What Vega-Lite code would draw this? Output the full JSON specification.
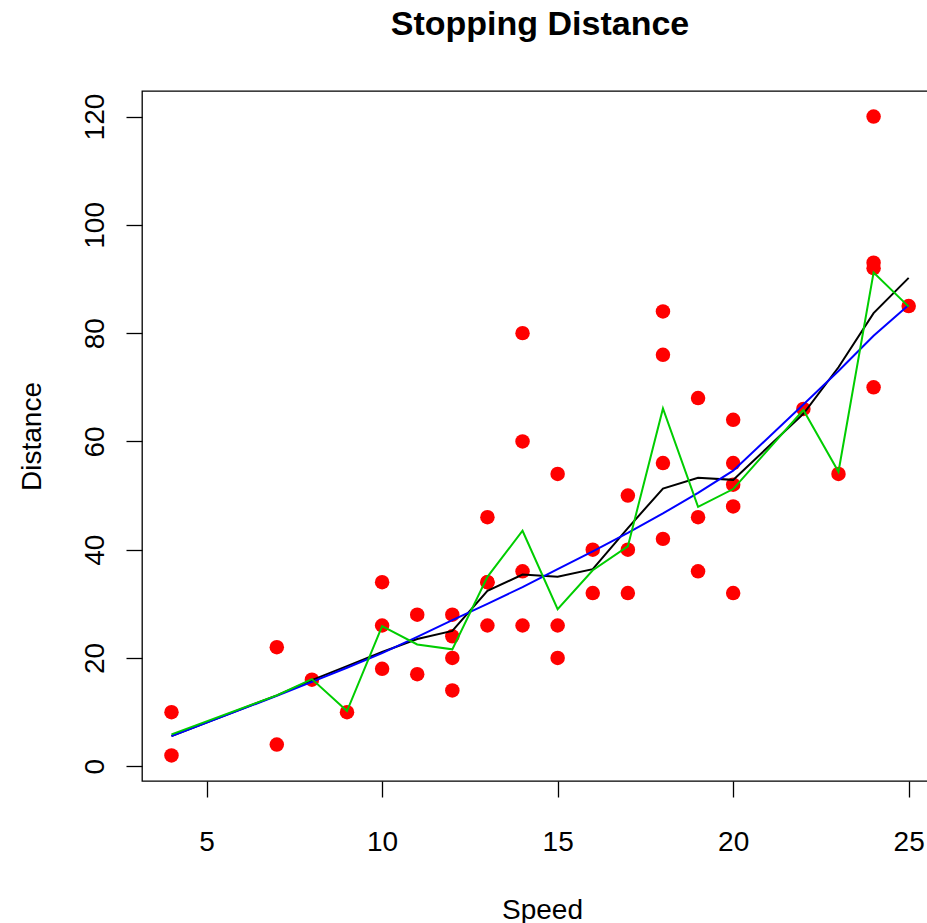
{
  "$schema": "https://vega.github.io/schema/vega-lite/v6.json",
  "width": 786,
  "height": 690,
  "autosize": {"type": "none"},
  "padding": {"left": 142, "top": 91, "right": 0, "bottom": 142},
  "background": "white",
  "config": {
    "view": {"stroke": "black", "strokeWidth": 1.3},
    "font": "Liberation Sans"
  },
  "title": {
    "text": "Stopping Distance",
    "font": "Liberation Sans",
    "fontSize": 34,
    "fontWeight": "bold",
    "color": "black",
    "anchor": "middle",
    "frame": "group",
    "baseline": "alphabetic",
    "offset": 22,
    "dx": 5
  },
  "datasets": {
    "cars": [
      {"speed": 4, "dist": 2}, {"speed": 4, "dist": 10}, {"speed": 7, "dist": 4}, {"speed": 7, "dist": 22},
      {"speed": 8, "dist": 16}, {"speed": 9, "dist": 10}, {"speed": 10, "dist": 18}, {"speed": 10, "dist": 26},
      {"speed": 10, "dist": 34}, {"speed": 11, "dist": 17}, {"speed": 11, "dist": 28}, {"speed": 12, "dist": 14},
      {"speed": 12, "dist": 20}, {"speed": 12, "dist": 24}, {"speed": 12, "dist": 28}, {"speed": 13, "dist": 26},
      {"speed": 13, "dist": 34}, {"speed": 13, "dist": 34}, {"speed": 13, "dist": 46}, {"speed": 14, "dist": 26},
      {"speed": 14, "dist": 36}, {"speed": 14, "dist": 60}, {"speed": 14, "dist": 80}, {"speed": 15, "dist": 20},
      {"speed": 15, "dist": 26}, {"speed": 15, "dist": 54}, {"speed": 16, "dist": 32}, {"speed": 16, "dist": 40},
      {"speed": 17, "dist": 32}, {"speed": 17, "dist": 40}, {"speed": 17, "dist": 50}, {"speed": 18, "dist": 42},
      {"speed": 18, "dist": 56}, {"speed": 18, "dist": 76}, {"speed": 18, "dist": 84}, {"speed": 19, "dist": 36},
      {"speed": 19, "dist": 46}, {"speed": 19, "dist": 68}, {"speed": 20, "dist": 32}, {"speed": 20, "dist": 48},
      {"speed": 20, "dist": 52}, {"speed": 20, "dist": 56}, {"speed": 20, "dist": 64}, {"speed": 22, "dist": 66},
      {"speed": 23, "dist": 54}, {"speed": 24, "dist": 70}, {"speed": 24, "dist": 92}, {"speed": 24, "dist": 93},
      {"speed": 24, "dist": 120}, {"speed": 25, "dist": 85}
    ],
    "fits": [
      {"fit": "black", "speed": 4, "dist": 5.6}, {"fit": "black", "speed": 7, "dist": 13.1}, {"fit": "black", "speed": 8, "dist": 15.9},
      {"fit": "black", "speed": 9, "dist": 18.5}, {"fit": "black", "speed": 10, "dist": 21.1}, {"fit": "black", "speed": 11, "dist": 23.5},
      {"fit": "black", "speed": 12, "dist": 25.0}, {"fit": "black", "speed": 13, "dist": 32.4}, {"fit": "black", "speed": 14, "dist": 35.4},
      {"fit": "black", "speed": 15, "dist": 35.0}, {"fit": "black", "speed": 16, "dist": 36.4}, {"fit": "black", "speed": 17, "dist": 44.0},
      {"fit": "black", "speed": 18, "dist": 51.3}, {"fit": "black", "speed": 19, "dist": 53.3}, {"fit": "black", "speed": 20, "dist": 52.9},
      {"fit": "black", "speed": 22, "dist": 65.1}, {"fit": "black", "speed": 23, "dist": 73.7}, {"fit": "black", "speed": 24, "dist": 83.7},
      {"fit": "black", "speed": 25, "dist": 90.2},
      {"fit": "blue", "speed": 4, "dist": 5.6}, {"fit": "blue", "speed": 7, "dist": 13.0}, {"fit": "blue", "speed": 8, "dist": 15.6},
      {"fit": "blue", "speed": 9, "dist": 18.2}, {"fit": "blue", "speed": 10, "dist": 20.9}, {"fit": "blue", "speed": 11, "dist": 23.9},
      {"fit": "blue", "speed": 12, "dist": 27.0}, {"fit": "blue", "speed": 13, "dist": 30.0}, {"fit": "blue", "speed": 14, "dist": 33.1},
      {"fit": "blue", "speed": 15, "dist": 36.4}, {"fit": "blue", "speed": 16, "dist": 39.7}, {"fit": "blue", "speed": 17, "dist": 43.1},
      {"fit": "blue", "speed": 18, "dist": 46.7}, {"fit": "blue", "speed": 19, "dist": 50.5}, {"fit": "blue", "speed": 20, "dist": 54.6},
      {"fit": "blue", "speed": 22, "dist": 66.8}, {"fit": "blue", "speed": 23, "dist": 73.0}, {"fit": "blue", "speed": 24, "dist": 79.5},
      {"fit": "blue", "speed": 25, "dist": 85.2},
      {"fit": "green", "speed": 4, "dist": 5.9}, {"fit": "green", "speed": 7, "dist": 13.1}, {"fit": "green", "speed": 8, "dist": 16.1},
      {"fit": "green", "speed": 9, "dist": 10.2}, {"fit": "green", "speed": 10, "dist": 25.9}, {"fit": "green", "speed": 11, "dist": 22.5},
      {"fit": "green", "speed": 12, "dist": 21.6}, {"fit": "green", "speed": 13, "dist": 35.0}, {"fit": "green", "speed": 14, "dist": 43.5},
      {"fit": "green", "speed": 15, "dist": 29.0}, {"fit": "green", "speed": 16, "dist": 36.2}, {"fit": "green", "speed": 17, "dist": 40.6},
      {"fit": "green", "speed": 18, "dist": 66.1}, {"fit": "green", "speed": 19, "dist": 47.9}, {"fit": "green", "speed": 20, "dist": 51.2},
      {"fit": "green", "speed": 22, "dist": 65.8}, {"fit": "green", "speed": 23, "dist": 54.4}, {"fit": "green", "speed": 24, "dist": 91.2},
      {"fit": "green", "speed": 25, "dist": 84.9}
    ]
  },
  "layer": [
    {
      "data": {"name": "cars"},
      "mark": {"type": "point", "shape": "circle", "filled": true, "size": 210, "color": "#FF0000", "opacity": 1},
      "encoding": {
        "x": {
          "field": "speed", "type": "quantitative",
          "scale": {"domain": [3.16, 25.55], "nice": false, "zero": false},
          "axis": {
            "values": [5, 10, 15, 20, 25],
            "title": "Speed",
            "titleFont": "Liberation Sans", "titleFontSize": 28, "titleFontWeight": "normal", "titleColor": "black",
            "titleX": 400, "titleY": 137, "titleBaseline": "alphabetic", "titleAlign": "center",
            "labelFont": "Liberation Sans", "labelFontSize": 28, "labelColor": "black",
            "labelBaseline": "alphabetic", "labelPadding": 53, "labelOverlap": false, "labelFlush": false,
            "tickSize": 16, "tickColor": "black", "tickWidth": 1.3,
            "domain": false, "grid": false
          }
        },
        "y": {
          "field": "dist", "type": "quantitative",
          "scale": {"domain": [-2.72, 124.72], "nice": false, "zero": false},
          "axis": {
            "values": [0, 20, 40, 60, 80, 100, 120],
            "title": "Distance",
            "titleFont": "Liberation Sans", "titleFontSize": 28, "titleFontWeight": "normal", "titleColor": "black",
            "titleAngle": -90, "titleX": -102, "titleY": 345, "titleBaseline": "alphabetic", "titleAlign": "center",
            "labelFont": "Liberation Sans", "labelFontSize": 28, "labelColor": "black",
            "labelAngle": -90, "labelAlign": "center", "labelBaseline": "alphabetic",
            "labelPadding": 23, "labelOverlap": false, "labelFlush": false,
            "tickSize": 16, "tickColor": "black", "tickWidth": 1.3,
            "domain": false, "grid": false
          }
        }
      }
    },
    {
      "data": {"name": "fits"},
      "transform": [{"filter": "datum.fit === 'black'"}],
      "mark": {"type": "line", "color": "#000000", "strokeWidth": 2},
      "encoding": {
        "x": {"field": "speed", "type": "quantitative"},
        "y": {"field": "dist", "type": "quantitative"}
      }
    },
    {
      "data": {"name": "fits"},
      "transform": [{"filter": "datum.fit === 'blue'"}],
      "mark": {"type": "line", "color": "#0000FF", "strokeWidth": 2},
      "encoding": {
        "x": {"field": "speed", "type": "quantitative"},
        "y": {"field": "dist", "type": "quantitative"}
      }
    },
    {
      "data": {"name": "fits"},
      "transform": [{"filter": "datum.fit === 'green'"}],
      "mark": {"type": "line", "color": "#00CD00", "strokeWidth": 2},
      "encoding": {
        "x": {"field": "speed", "type": "quantitative"},
        "y": {"field": "dist", "type": "quantitative"}
      }
    }
  ]
}
